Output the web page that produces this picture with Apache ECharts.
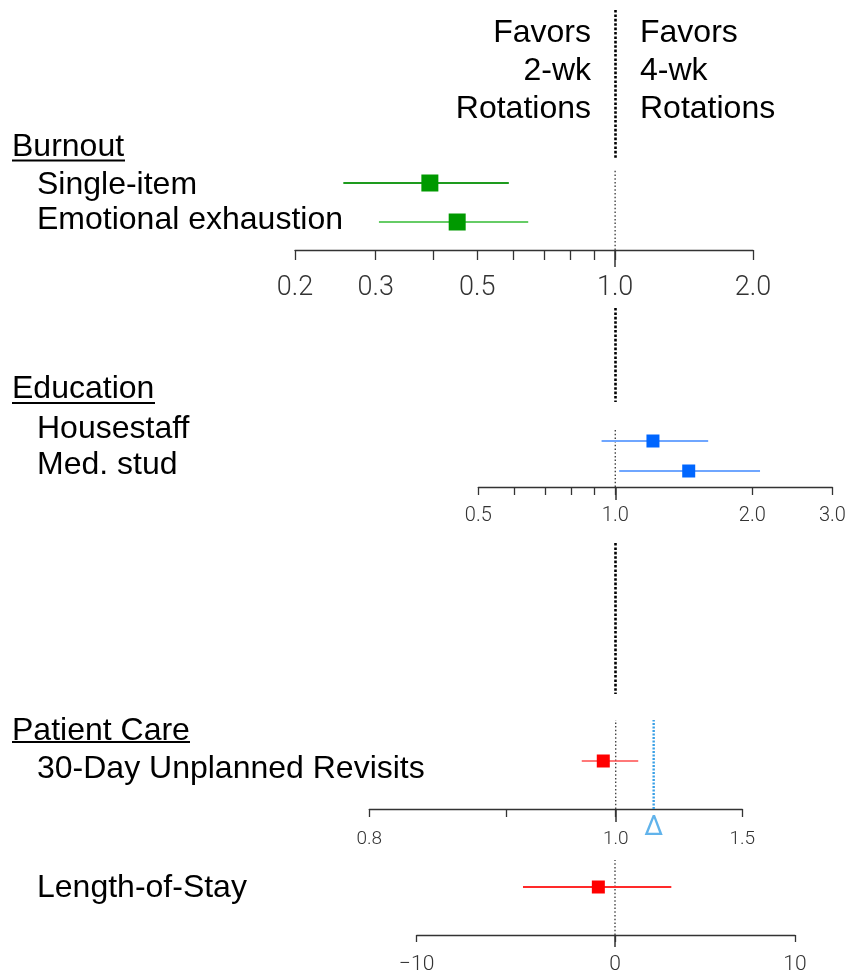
<!DOCTYPE html>
<html><head><meta charset="utf-8">
<script src="https://cdn.jsdelivr.net/npm/echarts@6/dist/echarts.min.js"></script>
<style>html,body{margin:0;padding:0;background:#fff}#c{width:852px;height:976px}</style>
</head><body><div id="c"></div>
<script>
// ---------------- DATA ----------------
// Burnout (odds ratios, log scale)
const burnoutLabels = ['Single-item', 'Emotional exhaustion'];
const burnoutEst  = [0.394, 0.452];
const burnoutLow  = [0.255, 0.305];
const burnoutHigh = [0.586, 0.646];
const burnoutTicks = [0.2, 0.3, 0.4, 0.5, 0.6, 0.7, 0.8, 0.9, 1.0, 2.0];
const burnoutTickLabels = [0.2, 0.3, 0.5, 1.0, 2.0];

// Education (ratios, log scale)
const eduLabels = ['Housestaff', 'Med. stud'];
const eduEst  = [1.21, 1.45];
const eduLow  = [0.933, 1.02];
const eduHigh = [1.60, 2.08];
const eduTicks = [0.5, 0.6, 0.7, 0.8, 0.9, 1.0, 2.0, 3.0];
const eduTickLabels = [0.5, 1.0, 2.0, 3.0];

// Patient care: 30-day unplanned revisits (odds ratio) with non-inferiority margin
const revisitEst  = [0.951];
const revisitLow  = [0.866];
const revisitHigh = [1.089];
const revisitDelta = 1.15;
const revisitTickLabels = ['0.8', '1.0', '1.5'];

// Patient care: length-of-stay (difference)
const losEst  = [-0.84];
const losLow  = [-4.64];
const losHigh = [2.84];
const losTickLabels = ['\u221210', '0', '10'];

// ---------------- LAYOUT ----------------
const L = Math.log10;
const AX = '#333';
const tickFontFamily = 'Roboto, "Liberation Sans", Arial, sans-serif';
const labelFont = '"Liberation Sans", Arial, Helvetica, sans-serif';

// revisit axis: drawn as in the source (left part compressed)
const revMin = 0.027, revMax = 1.5;
const revTickPos = [0.027, 0.567, 1.0, 1.5];
const revLabelPos = [0.027, 1.0, 1.5];
// length-of-stay axis
const losMin = -10, losMax = 9.077;
const losLabelPos = [-10, 0, 9.077];

const grids = [
  {left: 295,   top: 170, width: 458,   height: 80},
  {left: 478.3, top: 428, width: 354.1, height: 59},
  {left: 369.3, top: 720, width: 373,   height: 89},
  {left: 416.7, top: 860, width: 378.3, height: 75}
];
const yRanges = [
  [0.2821, 2.3333],
  [0.4667, 2.4333],
  [0, 1.8542],
  [0, 1.5625]
];

function nearestIdx(arr, v) {
  let b = 0; for (let i = 1; i < arr.length; i++) if (Math.abs(arr[i] - v) < Math.abs(arr[b] - v)) b = i; return b;
}

function mainAxis(i, min, max, tickVals, labelVals, fmt, o) {
  return {
    type: 'value', gridIndex: i, position: 'bottom', min, max,
    splitLine: {show: false},
    axisLine: {show: true, lineStyle: {color: AX, width: 1.3}},
    axisTick: {show: true, customValues: tickVals, length: o.tick, lineStyle: {color: AX, width: 1.3}},
    axisLabel: {show: true, customValues: labelVals, formatter: fmt, margin: o.margin,
      fontSize: o.fs, color: '#333', fontFamily: tickFontFamily, fontWeight: 300}
  };
}
function longTickAxis(i, min, max, at, len) {
  return {
    type: 'value', gridIndex: i, position: 'bottom', min, max,
    splitLine: {show: false},
    axisLine: {show: false},
    axisTick: {show: true, customValues: [at], length: len, lineStyle: {color: AX, width: 1.5}},
    axisLabel: {show: false}
  };
}

const xAxes = [
  mainAxis(0, L(0.2), L(2.0), burnoutTicks.map(L), burnoutTickLabels.map(L),
    v => Math.pow(10, v).toFixed(1), {tick: 10, margin: 25, fs: 27}),
  mainAxis(1, L(0.5), L(3.0), eduTicks.map(L), eduTickLabels.map(L),
    v => Math.pow(10, v).toFixed(1), {tick: 8, margin: 19, fs: 20}),
  mainAxis(2, revMin, revMax, revTickPos, revLabelPos,
    v => revisitTickLabels[nearestIdx(revLabelPos, v)], {tick: 8, margin: 21, fs: 19}),
  mainAxis(3, losMin, losMax, losLabelPos, losLabelPos,
    v => losTickLabels[nearestIdx(losLabelPos, v)], {tick: 7, margin: 19, fs: 21})
];
xAxes.push(longTickAxis(0, L(0.2), L(2.0), 0, 17));
xAxes.push(longTickAxis(1, L(0.5), L(3.0), 0, 13));
xAxes.push(longTickAxis(2, revMin, revMax, 1.0, 13));
xAxes.push(longTickAxis(3, losMin, losMax, 0, 12));

const yAxes = yRanges.map((r, i) => ({type: 'value', gridIndex: i, min: r[0], max: r[1], show: false}));

const series = [];
function ci(i, lo, hi, row, color, width) {
  series.push({type: 'line', xAxisIndex: i, yAxisIndex: i, data: [[lo, row], [hi, row]],
    symbol: 'none', silent: true, lineStyle: {color, width, opacity: 1}, z: 3});
}
function ref(i, x, style) {
  series.push({type: 'line', xAxisIndex: i, yAxisIndex: i,
    data: [[x, yRanges[i][0]], [x, yRanges[i][1]]], symbol: 'none', silent: true, lineStyle: style, z: 2});
}
function squares(i, pts, color, size) {
  series.push({type: 'scatter', xAxisIndex: i, yAxisIndex: i, data: pts, symbol: 'rect',
    symbolSize: size, itemStyle: {color, opacity: 1}, z: 5});
}
const refStyle = {color: '#444', width: 1.4, type: [1.5, 2.2]};

// Burnout
ref(0, 0, refStyle);
const burnLineColors = ['#1e9b1e', '#66cc66'];
burnoutEst.forEach((e, k) => ci(0, L(burnoutLow[k]), L(burnoutHigh[k]), burnoutEst.length - k, burnLineColors[k], 2));
squares(0, burnoutEst.map((e, k) => [L(e), burnoutEst.length - k]), '#009900', 17);

// Education
ref(1, 0, refStyle);
eduEst.forEach((e, k) => ci(1, L(eduLow[k]), L(eduHigh[k]), eduEst.length - k, '#6fa6ff', 1.8));
squares(1, eduEst.map((e, k) => [L(e), eduEst.length - k]), '#0066ff', 13);

// Revisits
ref(2, 1.0, refStyle);
ref(2, revisitDelta, {color: '#3aa0e6', width: 2.4, type: [2, 1.5]});
revisitEst.forEach((e, k) => ci(2, revisitLow[k], revisitHigh[k], 1, '#ff4d4d', 1.6));
squares(2, revisitEst.map(e => [e, 1]), '#ff0000', 13);
series.push({type: 'scatter', xAxisIndex: 2, yAxisIndex: 2, data: [[revisitDelta, yRanges[2][0]]],
  symbolSize: 0, silent: true, z: 6,
  label: {show: true, position: 'bottom', distance: 6, formatter: '\u0394', color: '#3aa0e6',
    fontSize: 27, fontFamily: tickFontFamily, fontWeight: 400}});

// Length of stay
ref(3, 0, refStyle);
losEst.forEach((e, k) => ci(3, losLow[k], losHigh[k], 1, '#ff2a2a', 1.8));
squares(3, losEst.map(e => [e, 1]), '#ff0000', 13);

// ---------------- TEXT / DECORATION ----------------
const FS = 32;
const DY = 1.5;
function txt(text, x, y, align) {
  return {type: 'text', x, y: y + DY, silent: true,
    style: {text, fontSize: FS, fontFamily: labelFont, fill: '#000', align: align || 'left', verticalAlign: 'middle', lineHeight: 38}};
}
function uline(x1, x2, y) {
  return {type: 'line', silent: true, shape: {x1, y1: y, x2, y2: y}, style: {stroke: '#000', lineWidth: 2.2}};
}
function sep(y1, y2) {
  return {type: 'line', silent: true, shape: {x1: 615.5, y1, x2: 615.5, y2},
    style: {stroke: '#000', lineWidth: 2.6, lineDash: [2.6, 1.8]}};
}
const graphic = [
  sep(10, 158), sep(308, 402), sep(543, 694),
  txt('Favors\n2-wk\nRotations', 591, 70, 'right'),
  txt('Favors\n4-wk\nRotations', 640, 70, 'left'),
  txt('Burnout', 12, 145.5), uline(12, 125, 160.5),
  txt(burnoutLabels[0], 37, 184),
  txt(burnoutLabels[1], 37, 219),
  txt('Education', 12, 388), uline(12, 155, 403),
  txt(eduLabels[0], 37, 428),
  txt(eduLabels[1], 37, 464),
  txt('Patient Care', 12, 729.5), uline(12, 190, 742),
  txt('30-Day Unplanned Revisits', 37, 768),
  txt('Length-of-Stay', 37, 887)
];

const chart = echarts.init(document.getElementById('c'), null, {renderer: 'canvas'});
chart.setOption({
  animation: false,
  backgroundColor: '#fff',
  grid: grids,
  xAxis: xAxes,
  yAxis: yAxes,
  series,
  graphic
});
</script>
</body></html>
